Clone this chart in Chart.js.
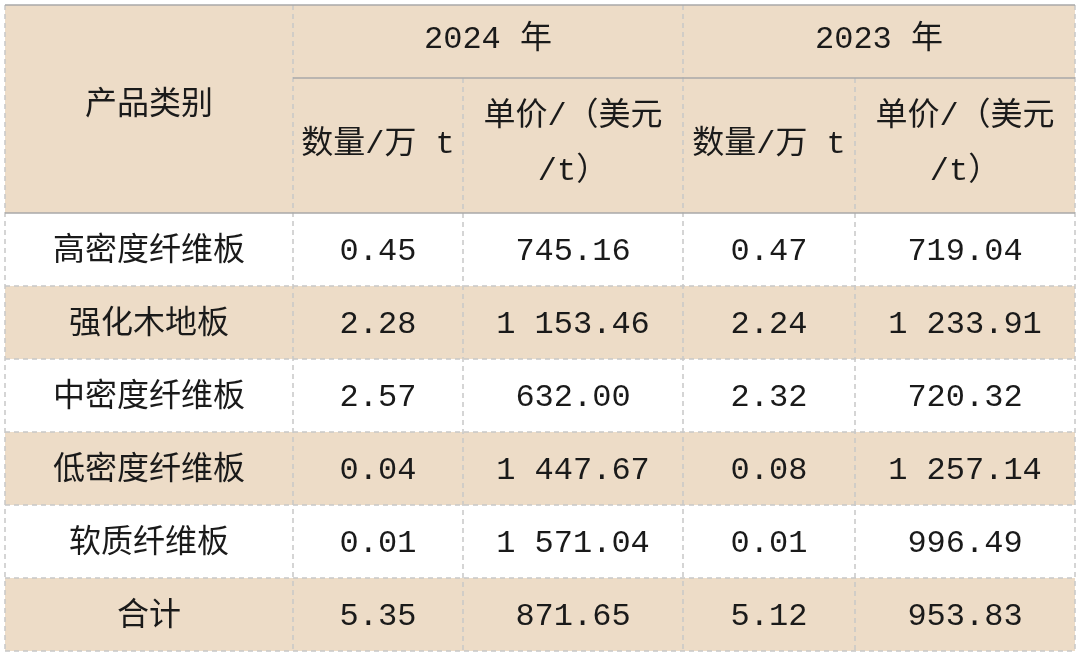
<!DOCTYPE html>
<html>
<head>
<meta charset="utf-8">
<script src="https://cdn.jsdelivr.net/npm/chart.js@4.4.0/dist/chart.umd.min.js"></script>
<style>
  html, body { margin: 0; padding: 0; background: #fff; }
  #wrap { width: 1080px; height: 656px; }
</style>
</head>
<body>
<div id="wrap"><canvas id="tabla"></canvas></div>
<script>
// datos de la tabla
const years = ["2024 年", "2023 年"];
const subHeaders = ["数量/万 t", ["单价/（美元", "/t）"]];
const categories = ["高密度纤维板", "强化木地板", "中密度纤维板", "低密度纤维板", "软质纤维板", "合计"];
const qty2024 = ["0.45", "2.28", "2.57", "0.04", "0.01", "5.35"];
const price2024 = ["745.16", "1 153.46", "632.00", "1 447.67", "1 571.04", "871.65"];
const qty2023 = ["0.47", "2.24", "2.32", "0.08", "0.01", "5.12"];
const price2023 = ["719.04", "1 233.91", "720.32", "1 257.14", "996.49", "953.83"];

// layout (pixels)
const colEdges = [5, 293, 463, 683, 855, 1075];
const headTop = 5, headMid = 78, headBottom = 213, rowH = 73;
const tan = "#EDDCC7";
const font = '32px "Liberation Mono", "Noto Sans CJK SC", monospace';

const tablaPlugin = {
  id: "tabla",
  afterDraw(chart) {
    const ctx = chart.ctx;
    const X = v => chart.scales.x.getPixelForValue(v);
    const Y = v => chart.scales.y.getPixelForValue(v);
    const left = X(colEdges[0]), right = X(colEdges[5]);
    ctx.save();
    // fondos
    ctx.fillStyle = tan;
    ctx.fillRect(left, Y(headTop), right - left, Y(headBottom) - Y(headTop));
    categories.forEach((c, i) => {
      const y0 = Y(headBottom + i * rowH), y1 = Y(headBottom + (i + 1) * rowH);
      ctx.fillStyle = i % 2 ? tan : "#ffffff";
      ctx.fillRect(left, y0, right - left, y1 - y0);
    });
    const bottom = Y(headBottom + categories.length * rowH);
    // lineas punteadas
    ctx.strokeStyle = "#c8c8c8";
    ctx.lineWidth = 1.5;
    ctx.setLineDash([5, 4]);
    for (let i = 0; i < colEdges.length; i++) {
      const top = (i === 2 || i === 4) ? Y(headMid) : Y(headTop);
      ctx.beginPath(); ctx.moveTo(X(colEdges[i]), top); ctx.lineTo(X(colEdges[i]), bottom); ctx.stroke();
    }
    for (let i = 1; i <= categories.length; i++) {
      const y = Y(headBottom + i * rowH);
      ctx.beginPath(); ctx.moveTo(left, y); ctx.lineTo(right, y); ctx.stroke();
    }
    // lineas solidas
    ctx.setLineDash([]);
    ctx.strokeStyle = "#a8a8a8";
    ctx.lineWidth = 1.5;
    [[left, right, headTop], [X(colEdges[1]), right, headMid], [left, right, headBottom]].forEach(l => {
      ctx.beginPath(); ctx.moveTo(l[0], Y(l[2])); ctx.lineTo(l[1], Y(l[2])); ctx.stroke();
    });
    // textos
    ctx.fillStyle = "#1a1a1a";
    ctx.font = font;
    ctx.textAlign = "center";
    ctx.textBaseline = "middle";
    const cx = i => (X(colEdges[i]) + X(colEdges[i + 1])) / 2;
    ctx.fillText("产品类别", cx(0), Y(106));
    ctx.fillText(years[0], (X(colEdges[1]) + X(colEdges[3])) / 2, Y(40));
    ctx.fillText(years[1], (X(colEdges[3]) + X(colEdges[5])) / 2, Y(40));
    [1, 3].forEach(c => {
      ctx.fillText(subHeaders[0], cx(c), Y(145));
      ctx.fillText(subHeaders[1][0], cx(c + 1), Y(117));
      ctx.fillText(subHeaders[1][1], cx(c + 1), Y(172));
    });
    const cols = [categories, qty2024, price2024, qty2023, price2023];
    cols.forEach((col, c) => {
      col.forEach((v, r) => ctx.fillText(v, cx(c), Y(headBottom + r * rowH + rowH / 2 + 2)));
    });
    ctx.restore();
  }
};

new Chart(document.getElementById("tabla"), {
  type: "scatter",
  data: { datasets: [{ data: [] }] },
  options: {
    responsive: true,
    maintainAspectRatio: false,
    animation: false,
    layout: { padding: 0 },
    plugins: { legend: { display: false }, tooltip: { enabled: false } },
    scales: {
      x: { type: "linear", min: 0, max: 1080, display: false },
      y: { type: "linear", min: 0, max: 656, reverse: true, display: false }
    }
  },
  plugins: [tablaPlugin]
});
</script>
</body>
</html>
